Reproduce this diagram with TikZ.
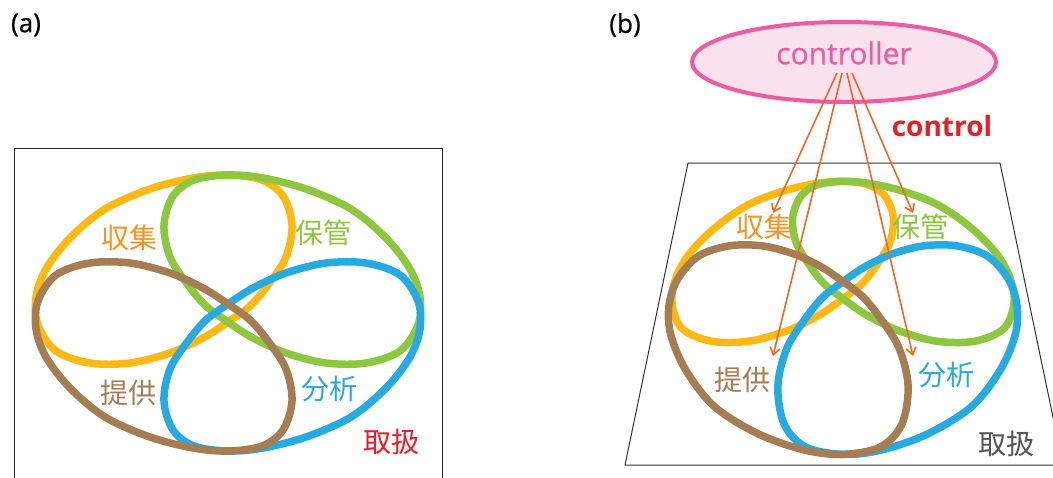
\documentclass[tikz,border=0pt]{standalone}
\usepackage{fontspec}
\setmainfont{Open Sans}
\newfontfamily\medfont{Open Sans}[FakeBold=0.7]
\newfontfamily\jpfont{Noto Sans CJK JP}
\usetikzlibrary{arrows.meta,shapes.geometric}

\definecolor{loopor}{HTML}{FDB913}
\definecolor{txtor}{HTML}{F7931E}
\definecolor{loopgr}{HTML}{8DC63F}
\definecolor{loopbl}{HTML}{27AAE1}
\definecolor{loopbr}{HTML}{A67C52}
\definecolor{hdred}{HTML}{ED1C24}
\definecolor{pinkline}{HTML}{EE5BA0}
\definecolor{pinkfill}{HTML}{F9E1ED}
\definecolor{arrowor}{HTML}{F26522}
\definecolor{darkgr}{HTML}{555555}

% One petal loop: #1 name, #2 mapping (lft = flat plane, rgt = tilted plane),
% #3/#4 mirror signs in u and v, #5 colour.
\newcommand\mkpetal[5]{%
  \foreach \pu/\pv [count=\i] in {-78/-124,-35/-135,0/-138,34/-133,55/-117,
      64/-88,58/-56,40/-28,22/-7,0/9,-25/25,-58/40,-98/50,-138/50,-172/38,
      -190/12,-192/-16,-182/-44,-158/-75,-123/-104}{%
    \coordinate (#1-\i) at ({#2x((#3)*(\pu),(#4)*(\pv))},{#2y((#3)*(\pu),(#4)*(\pv))});
  }%
  \draw[loopline,draw=#5] plot[smooth cycle,tension=0.55] coordinates {(#1-1) (#1-2)
    (#1-3) (#1-4) (#1-5) (#1-6) (#1-7) (#1-8) (#1-9) (#1-10) (#1-11) (#1-12)
    (#1-13) (#1-14) (#1-15) (#1-16) (#1-17) (#1-18) (#1-19) (#1-20)};%
}

\begin{document}
\begin{tikzpicture}[x=1pt,y=-1pt,
  declare function={
    lftx(\a,\b)=228+\a;
    lfty(\a,\b)=313+\b;
    wgt(\b)=1-0.001481*\b;
    rgtx(\a,\b)=843+0.885*\a/wgt(\b);
    rgty(\a,\b)=290+0.948*\b/wgt(\b);
  },
  loopline/.style={line width=7.5pt},
  jlabel/.style={font=\jpfont\fontsize{28}{28}\selectfont,inner sep=0pt},
  panel/.style={font=\medfont\fontsize{26}{26}\selectfont,inner sep=0pt},
  ctlarrow/.style={draw=arrowor,line width=1.6pt,
    -{Straight Barb[length=7pt,width=10pt,line width=1.6pt]}},
  frame/.style={draw=black!85,line width=1pt}]
\useasboundingbox (0,0) rectangle (1053,477);

% ---------- (a) ----------
\node[panel] (lbla) at (26,25) {(a)};
\draw[frame] (14.5,485) |- (442.5,148.5) -- (442.5,485);

\mkpetal{ao}{lft}{1}{1}{loopor}
\mkpetal{ag}{lft}{-1}{1}{loopgr}
\mkpetal{ab}{lft}{-1}{-1}{loopbl}
\mkpetal{an}{lft}{1}{-1}{loopbr}

\node[jlabel,text=txtor]  (acol) at (129,238) {収集};
\node[jlabel,text=loopgr] (asto) at (323,233) {保管};
\node[jlabel,text=loopbr] (aprv) at (128,393) {提供};
\node[jlabel,text=loopbl] (aana) at (329,389) {分析};
\node[jlabel,text=hdred]  (ahdl) at (391,442) {取扱};

% ---------- (b) ----------
\node[panel] (lblb) at (625,25) {(b)};
\draw[frame,draw=black!80] (625,465) -- (688,163) -- (1000,163) -- (1063,465) -- cycle;

\mkpetal{bo}{rgt}{1}{1}{loopor}
\mkpetal{bg}{rgt}{-1}{1}{loopgr}
\mkpetal{bb}{rgt}{-1}{-1}{loopbl}
\mkpetal{bn}{rgt}{1}{-1}{loopbr}

\node[jlabel,text=txtor]  (bcol) at (764,227) {収集};
\node[jlabel,text=loopgr] (bsto) at (920,227) {保管};
\node[jlabel,text=loopbr] (bprv) at (742,380) {提供};
\node[jlabel,text=loopbl] (bana) at (946,375) {分析};
\node[jlabel,text=darkgr] (bhdl) at (1006,444) {取扱};

% controller and its control arrows
\node[ellipse,draw=pinkline,fill=pinkfill,line width=4pt,
  minimum width=304pt,minimum height=80pt,inner sep=0pt] (ctl) at (844,62) {};
\node[text=pinkline,font=\medfont\fontsize{30}{30}\selectfont,inner sep=0pt] (ctltxt) at (844,53) {controller};
\node[text=hdred,font=\bfseries\fontsize{28}{28}\selectfont,inner sep=0pt] (ctlword) at (942,126) {control};

\coordinate (s1) at (837,73);
\coordinate (s2) at (842,73);
\coordinate (s3) at (847,73);
\coordinate (s4) at (852,73);
\coordinate (t1) at (773,213);
\coordinate (t2) at (773,356);
\coordinate (t3) at (913,356);
\coordinate (t4) at (913,213);
\draw[ctlarrow] (s1) -- (t1);
\draw[ctlarrow] (s2) -- (t2);
\draw[ctlarrow] (s3) -- (t3);
\draw[ctlarrow] (s4) -- (t4);
\end{tikzpicture}
\end{document}
